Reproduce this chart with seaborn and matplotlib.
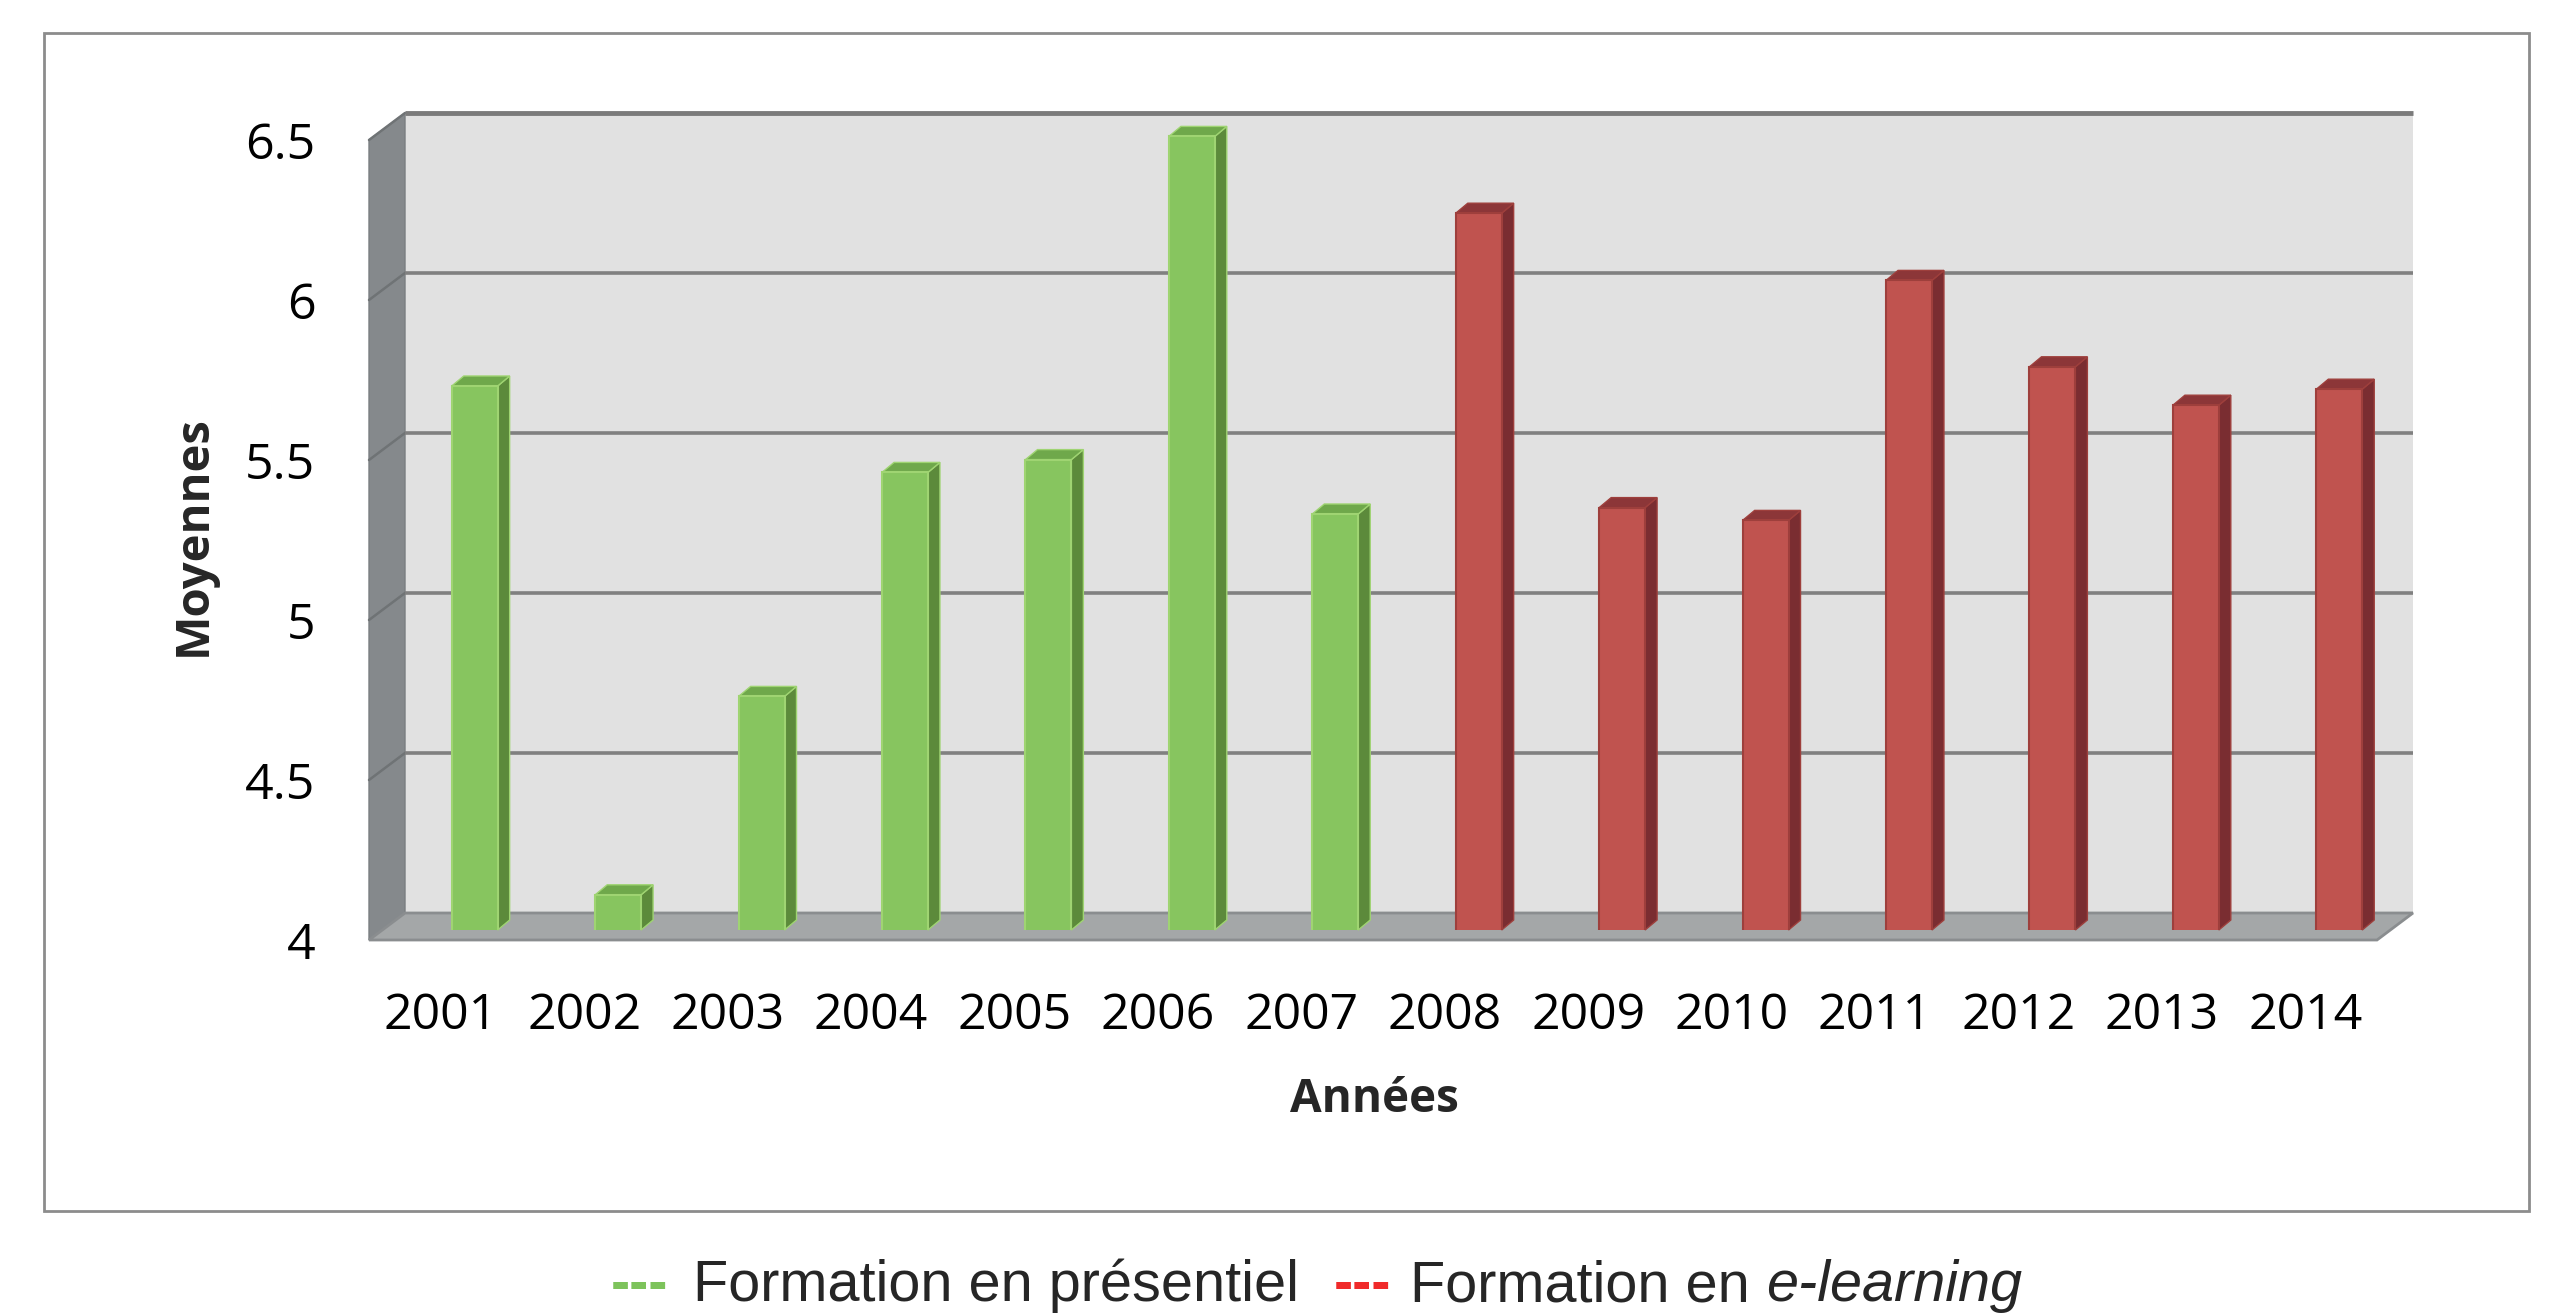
import matplotlib
matplotlib.use("Agg")
import pandas as pd
import matplotlib.pyplot as plt
import seaborn as sns
from matplotlib.patches import Polygon, Rectangle
from matplotlib.transforms import offset_copy, IdentityTransform, ScaledTranslation

# Data
annees = [str(a) for a in range(2001, 2015)]
moyennes = [5.70, 4.11, 4.73, 5.43, 5.47, 6.48, 5.30, 6.24, 5.32, 5.28, 6.03, 5.76, 5.64, 5.69]
groupes = ["Formation en présentiel"] * 7 + ["Formation en e-learning"] * 7
y_ticks = [4, 4.5, 5, 5.5, 6, 6.5]
y_tick_labels = ["4", "4.5", "5", "5.5", "6", "6.5"]

df = pd.DataFrame({"Année": annees, "Moyenne": moyennes, "Groupe": groupes})

# front, side, top, edge
couleurs = {
    "Formation en présentiel": ("#87c55f", "#5c8a3b", "#6fa84b", "#9fd472"),
    "Formation en e-learning": ("#c0534f", "#7a2d31", "#8c3638", "#9e3f3c"),
}

sns.set_style("white")
plt.rcParams["font.family"] = ["Open Sans", "DejaVu Sans"]

W, H = 2550, 1315
fig = plt.figure(figsize=(W / 100, H / 100), dpi=100)
ax = fig.add_axes([403 / W, 1 - 930 / H, 2008 / W, 800 / H])

sns.barplot(data=df, x="Année", y="Moyenne", hue="Groupe",
            palette={k: v[0] for k, v in couleurs.items()},
            dodge=False, width=0.32, errorbar=None, legend=False, ax=ax)
bars = list(ax.patches)

ax.set_xlim(-0.5, 13.5)
ax.set_ylim(4, 6.5)
ax.set_xlabel("")
ax.set_ylabel("")
ax.patch.set_visible(False)
sns.despine(ax=ax, left=True, bottom=True)

# pixel offsets of the back wall and of the front edge (fake 3D)
back = (2, 17)
front = (-34, -10)
depth = (12, 10)


def px(x, y, d=(0, 0)):
    X, Y = ax.transData.transform((x, y))
    return (X + d[0], Y + d[1])


def poly(pts, **kw):
    p = Polygon(pts, closed=True, transform=IdentityTransform(), **kw)
    ax.add_artist(p)
    p.set_clip_on(False)
    return p


x0, x1 = -0.5, 13.5
# back wall
poly([px(x0, 4, back), px(x1, 4, back), px(x1, 6.5, back), px(x0, 6.5, back)],
     facecolor="#e1e1e1", edgecolor="none", zorder=0)
# left wall
poly([px(x0, 4, front), px(x0, 4, back), px(x0, 6.5, back), px(x0, 6.5, front)],
     facecolor="#85898c", edgecolor="#7a7e81", lw=1, zorder=0.5)
# floor
poly([px(x0, 4, front), px(x1, 4, front), px(x1, 4, back), px(x0, 4, back)],
     facecolor="#a4a7a8", edgecolor="#8a8d8f", lw=2, zorder=0.6)

# gridlines on the back wall and on the left wall
trans_back = offset_copy(ax.transData, fig=fig, x=back[0], y=back[1], units="dots")
ax.hlines(y_ticks[1:-1], x0, x1, transform=trans_back, colors="#808080", lw=2.6,
          zorder=1, clip_on=False)
ax.hlines([6.5], x0, x1, transform=trans_back, colors="#7b7b7b", lw=3.5,
          zorder=1, clip_on=False)
for yv in y_ticks[1:]:
    a, b = px(x0, yv, back), px(x0, yv, front)
    ln = plt.Line2D([a[0], b[0]], [a[1], b[1]], transform=IdentityTransform(),
                    color="#6f7375", lw=1.8, zorder=0.7)
    ax.add_artist(ln)
    ln.set_clip_on(False)

# bars: front face from seaborn, side and top faces added
for bar in bars:
    bx, bw, bh = bar.get_x(), bar.get_width(), bar.get_height()
    i = int(round(bx + bw / 2))
    c_front, c_side, c_top, c_edge = couleurs[groupes[i]]
    bar.set_facecolor(c_front)
    bar.set_edgecolor(c_edge)
    bar.set_linewidth(1.5)
    bar.set_zorder(4)
    r = bx + bw
    poly([px(r, 4), px(r, bh), px(r, bh, depth), px(r, 4, depth)],
         facecolor=c_side, edgecolor=c_edge, lw=1, zorder=3.5)
    poly([px(bx, bh), px(r, bh), px(r, bh, depth), px(bx, bh, depth)],
         facecolor=c_top, edgecolor=c_edge, lw=1, zorder=3.6)

ax.set_yticks(y_ticks)
ax.set_yticklabels(y_tick_labels)
ax.tick_params(axis="both", length=0, labelsize=36, labelcolor="black")
ax.tick_params(axis="y", pad=63)
ax.tick_params(axis="x", pad=44)
for lab in ax.get_xticklabels():
    lab.set_transform(lab.get_transform() + ScaledTranslation(-34 / 100, 0, fig.dpi_scale_trans))
for lab in ax.get_yticklabels():
    lab.set_transform(lab.get_transform() + ScaledTranslation(0, -10 / 100, fig.dpi_scale_trans))

fig.text(193 / W, 1 - 536 / H, "Moyennes", rotation=90, fontsize=34, fontweight="bold",
         ha="center", va="center")
fig.text(1374 / W, 1 - 1099 / H, "Années", fontsize=33, fontweight="bold",
         ha="center", va="center")

# outer frame
fig.add_artist(Rectangle((44 / W, 1 - 1211 / H), (2529 - 44) / W, (1211 - 33) / H,
                         transform=fig.transFigure, fill=False, ec="#8c8c8c", lw=2))

# legend under the frame, raised a little so the descenders stay inside the image
leg_font = ["Liberation Sans", "DejaVu Sans"]
leg_size = 41.5
base_y = (H - 1301) / H
fig.text(611 / W, base_y, "---", color="#7dc35b", fontsize=leg_size, fontweight="bold",
         family=leg_font, va="baseline")
fig.text(693 / W, base_y, "Formation en présentiel", fontsize=leg_size, family=leg_font,
         va="baseline")
fig.text(1334 / W, base_y, "---", color="#f02a2a", fontsize=leg_size, fontweight="bold",
         family=leg_font, va="baseline")
t_en = fig.text(1410 / W, base_y, "Formation en", fontsize=leg_size, family=leg_font,
                va="baseline")
bb = t_en.get_window_extent(renderer=fig.canvas.get_renderer())
space = 0.278 * leg_size / 72 * 100
fig.text((bb.x1 + space) / W, base_y, "e-learning", fontsize=leg_size, family=leg_font,
         style="italic", va="baseline")

fig.savefig("out.png", dpi=100)
